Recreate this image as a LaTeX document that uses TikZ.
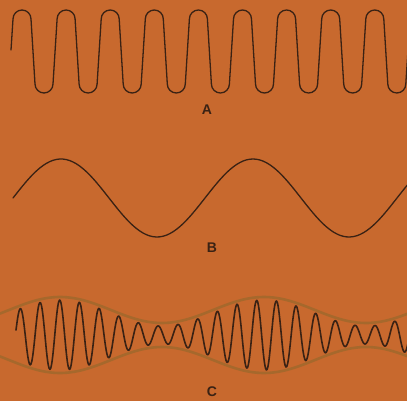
\documentclass[tikz,border=0pt]{standalone}
\usepackage{fontspec}
\setsansfont{Liberation Sans}
\usepackage{tikz}
\usetikzlibrary{positioning}

\definecolor{paper}{RGB}{200,105,46}
\definecolor{ink}{RGB}{58,34,20}
\definecolor{envcol}{RGB}{166,104,44}

\begin{document}
\begin{tikzpicture}[x=1pt, y=-1pt, line join=round, line cap=round]

	\tikzset{
		wave/.style={
				draw=ink, line width=1.3pt
			},
		carrier/.style={
				draw=ink, line width=1.6pt
			},
		envelope/.style={
				draw=envcol, line width=2.6pt
			},
		tag/.style={
				font=\fontsize{14}{14}\sffamily\bfseries, text=ink, inner sep=1pt
			},
	}

	\useasboundingbox (0,0) rectangle (407,401);
	\fill[paper] (0,0) rectangle (407,401);
	\clip (0,0) rectangle (407,401);

  % A: rounded square wave
  \draw[wave] (11,50)
    \foreach \k in {0,...,8} {
      -- ({13+44.1*\k},19) arc[start angle=180, end angle=360, radius=9]
      -- ({35+44.1*\k},84) arc[start angle=180, end angle=0, radius=9]
    } -- (410,19);
  \node[tag] (lblA) at (207,110) {A};

  % B: sine
  \draw[wave] plot[domain=13:410, samples=120, smooth]
    (\x, {198-39*cos(1.875*(\x-61))});
  \node[tag] (lblB) at (212,248) {B};

  % C: modulated carrier with its envelope
  \draw[envelope] plot[domain=0:410, samples=100, smooth]
    (\x, {334-(24+13*cos(1.7647*(\x-60)))});
  \draw[envelope] plot[domain=0:410, samples=100, smooth]
    (\x, {336+(24+13*cos(1.7647*(\x-60)))});
  \draw[carrier] plot[domain=16:410, samples=500, smooth]
    (\x, {335-(22+13*cos(1.7647*(\x-60)))*cos(18.274*(\x-40))});
  \node[tag] (lblC) at (212,392) {C};
\end{tikzpicture}
\end{document}
